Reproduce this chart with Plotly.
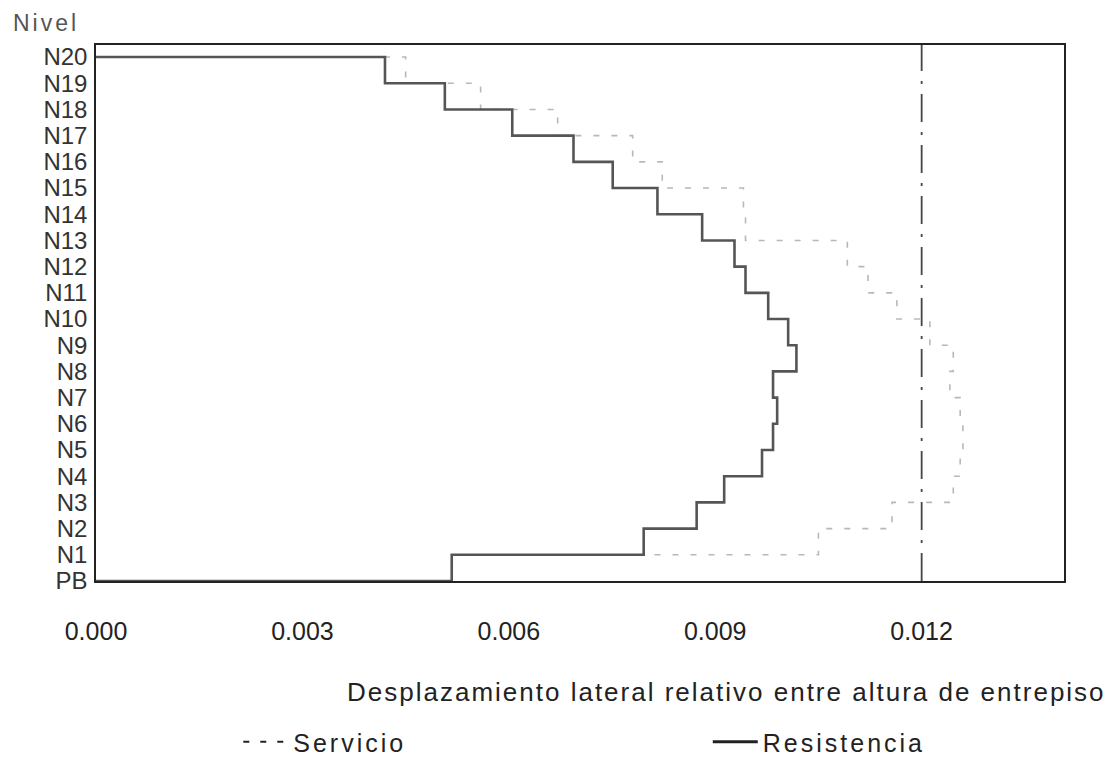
import plotly.graph_objects as go

# ---- data ----
niveles = ["PB", "N1", "N2", "N3", "N4", "N5", "N6", "N7", "N8", "N9", "N10",
           "N11", "N12", "N13", "N14", "N15", "N16", "N17", "N18", "N19", "N20"]

# drift of each storey, storey 1 (PB-N1) ... storey 20 (N19-N20)
resistencia = [0.00517, 0.00796, 0.00873, 0.00913, 0.00968, 0.00984, 0.00990,
               0.00984, 0.01018, 0.01006, 0.00977, 0.00944, 0.00928, 0.00881,
               0.00816, 0.00751, 0.00694, 0.00605, 0.00507, 0.00420]

servicio = [0.00517, 0.01050, 0.01157, 0.01246, 0.01256, 0.01260, 0.01256,
            0.01241, 0.01246, 0.01212, 0.01164, 0.01122, 0.01092, 0.00944,
            0.00941, 0.00823, 0.00780, 0.00671, 0.00559, 0.00450]

limite = 0.012
x_ticks = [0.000, 0.003, 0.006, 0.009, 0.012]
x_ticktext = ["0.000", "0.003", "0.006", "0.009", "0.012"]


def escalera(valores):
    """Staircase path: from top level down to PB (used with line_shape='hv')."""
    n = len(valores)
    xs = [0.0] + [valores[i] for i in range(n - 1, -1, -1)] + [0.0]
    ys = [float(n)] + [float(i) for i in range(n - 1, -1, -1)] + [0.0]
    return xs, ys


FONT = "Liberation Sans, Arial, sans-serif"

fig = go.Figure()

xs_s, ys_s = escalera(servicio)
fig.add_trace(go.Scatter(x=xs_s, y=ys_s, mode="lines", line_shape="hv",
                         line=dict(color="#b8b8b8", width=1.6, dash="6px,12px"),
                         showlegend=False, hoverinfo="skip"))

xs_r, ys_r = escalera(resistencia)
fig.add_trace(go.Scatter(x=xs_r, y=ys_r, mode="lines", line_shape="hv",
                         line=dict(color="#555555", width=2.6),
                         showlegend=False, hoverinfo="skip"))

# limit line
fig.add_trace(go.Scatter(x=[limite, limite], y=[0, len(niveles) - 1 + 0.46],
                         mode="lines",
                         line=dict(color="#444444", width=1.8, dash="28px,10px,3px,10px"),
                         showlegend=False, hoverinfo="skip"))

# legend entries
fig.add_trace(go.Scatter(x=[None], y=[None], mode="lines",
                         line=dict(color="#222222", width=2, dash="6px,11px"),
                         name='<span style="letter-spacing:3px">Servicio</span>',
                         legend="legend"))
fig.add_trace(go.Scatter(x=[None], y=[None], mode="lines",
                         line=dict(color="#222222", width=3),
                         name='<span style="letter-spacing:3px">Resistencia</span>',
                         legend="legend2"))

leg_common = dict(orientation="h", yref="paper", y=-0.3004, yanchor="middle",
                  xanchor="left", itemwidth=45,
                  font=dict(size=25, color="#222222"), bgcolor="rgba(0,0,0,0)")

fig.update_layout(
    width=1106, height=752,
    margin=dict(l=88, r=50, t=37, b=179, autoexpand=False),
    paper_bgcolor="white", plot_bgcolor="white",
    font=dict(family=FONT, size=25, color="#222222"),
    xaxis=dict(range=[0, 0.014069], tickvals=x_ticks, ticktext=x_ticktext,
               showgrid=False, zeroline=False, showline=True, mirror=True,
               linecolor="#222222", linewidth=1.5,
               ticks="outside", ticklen=27, tickcolor="rgba(0,0,0,0)",
               tickfont=dict(size=25, color="#222222")),
    yaxis=dict(range=[0, len(niveles) - 1 + 0.46],
               tickvals=list(range(len(niveles))), ticktext=niveles,
               showgrid=False, zeroline=False, showline=True, mirror=True,
               linecolor="#222222", linewidth=1.5,
               ticks="outside", ticklen=2, tickcolor="rgba(0,0,0,0)",
               tickfont=dict(size=24, color="#333333")),
    legend=dict(x=0.147, **leg_common),
    legend2=dict(x=0.632, **leg_common),
    annotations=[
        dict(text='<span style="letter-spacing:3px">Nivel</span>', xref="paper", yref="paper",
             x=-0.088, y=1.069, xanchor="left", yanchor="top", showarrow=False,
             font=dict(size=23, color="#555555")),
        dict(text='<span style="letter-spacing:2px">Desplazamiento lateral relativo entre altura de entrepiso</span>',
             xref="paper", yref="paper", x=1.045, y=-0.207, xanchor="right", yanchor="middle",
             showarrow=False, font=dict(size=26, color="#222222")),
    ],
)

fig.write_html("out.html")
